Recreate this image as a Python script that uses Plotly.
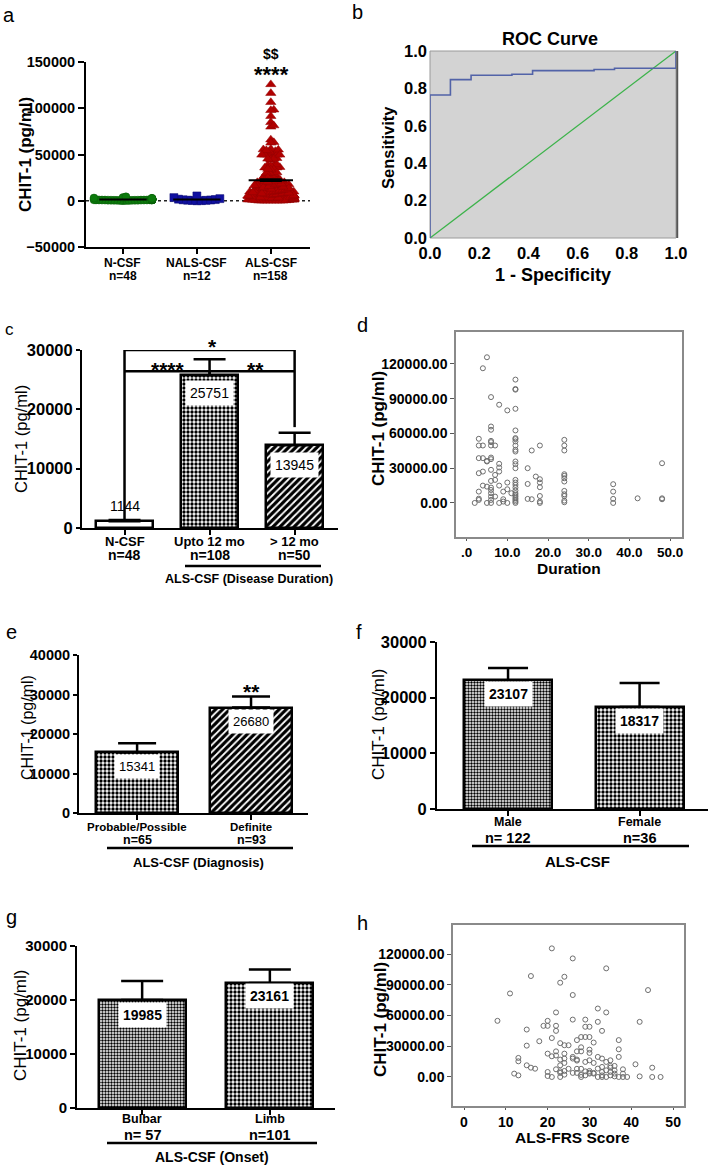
import numpy as np
import plotly.graph_objects as go

W, H = 709, 1165
FONT = "Liberation Sans, Arial, Helvetica, sans-serif"

# ---------------- data ----------------
# panel a : CHIT-1 per group
a_groups = ["N-CSF", "NALS-CSF", "ALS-CSF"]
a_counts = ["n=48", "n=12", "n=158"]
a_ncsf = [120, 240, 300, 350, 410, 460, 500, 540, 580, 620, 660, 700, 730, 770, 800,
          840, 870, 900, 930, 960, 990, 1020, 1050, 1080, 1110, 1140, 1180, 1210, 1250,
          1290, 1330, 1370, 1410, 1450, 1500, 1550, 1600, 1660, 1720, 1800, 1900, 2000,
          2150, 2350, 2600, 2900, 3400, 4200]
a_nals = [0, 150, 300, 450, 600, 800, 1000, 1300, 1700, 2300, 3400, 5200]

# panel b : ROC curve
roc_fpr = [0.0, 0.0, 0.083, 0.167, 0.333, 0.417, 0.667, 0.75, 1.0, 1.0]
roc_tpr = [0.0, 0.765, 0.847, 0.870, 0.876, 0.895, 0.901, 0.908, 0.908, 1.0]

# panel c : disease duration
c_groups = ["N-CSF", "Upto 12 mo", "> 12 mo"]
c_counts = ["n=48", "n=108", "n=50"]
c_means = [1144, 25751, 13945]
c_sem = [200, 2670, 2100]

# panel d : CHIT-1 vs duration (months)
d_duration = ([2] + [3] * 7 + [4] * 5 + [5] * 5 + [6] * 16 + [7] * 4 + [8] * 6 + [9] * 3 +
              [10] * 4 + [11] + [12] * 26 + [15] * 3 + [16] * 2 + [17] + [18] * 7 +
              [24] * 12 + [36] * 4 + [42] + [48] * 3)
d_chit = [0,
          55400, 49600, 38700, 25700, 9800, 3700, 2600,
          116300, 49600, 38700, 27100, 15000,
          125800, 36300, 35800, 14100, 0,
          91400, 66000, 63200, 53600, 52500, 49600, 39200, 37800, 28600, 19000, 13300,
          11200, 8400, 5500, 2600, 0,
          49600, 24200, 19900, 5500,
          84800, 33800, 30600, 27100, 15000, 0,
          9800, 3200, 1200,
          79900, 17600, 11800, 0,
          8400,
          106500, 98400, 97800, 81300, 62600, 56000, 55100, 53100, 49600, 45900, 44400,
          35800, 33500, 30000, 19900, 17600, 15600, 13300, 10700, 8400, 6900, 5500, 4000,
          2600, 1200, 0,
          30000, 16400, 3500,
          45300, 3200,
          22800,
          49600, 20500, 17600, 13600, 6000, 1200, 0,
          54500, 49600, 45300, 24800, 23400, 21300, 18500, 10400, 7500, 6000, 2000, 600,
          16200, 9800, 3500, 0,
          4000,
          34300, 4000, 3200]
d_xticks = [".0", "10.0", "20.0", "30.0", "40.0", "50.0"]

# ALS-CSF values in panel a: the visible points of panel d plus the low values hidden
# in the dense part of the swarm
a_als_hidden = [0, 300, 500, 800, 1000, 1300, 1500, 1800, 2000, 2200, 2500, 2800, 3000,
                3300, 3600, 4000, 4300, 4700, 5000, 5400, 5800, 6200, 6600, 7000, 7400,
                7800, 8200, 8600, 9000, 9500, 10000, 10500, 11000, 11600, 12200, 12800,
                13500, 14200, 15000, 15800, 16600, 17500, 18500, 19500, 20500, 21500, 23000]
a_als = d_chit + a_als_hidden

# panel e : diagnosis
e_groups = ["Probable/Possible", "Definite"]
e_counts = ["n=65", "n=93"]
e_means = [15341, 26680]
e_sem = [2340, 2800]

# panel f : sex
f_groups = ["Male", "Female"]
f_counts = ["n= 122", "n=36"]
f_means = [23107, 18317]
f_sem = [2220, 4320]

# panel g : onset
g_groups = ["Bulbar", "Limb"]
g_counts = ["n= 57", "n=101"]
g_means = [19985, 23161]
g_sem = [3520, 2510]

# panel h : CHIT-1 vs ALS-FRS
h_frs = [8, 11, 12, 13, 13, 13, 15, 15, 15, 16, 16, 17, 18, 19, 20, 20, 20, 20, 20,
         21, 21, 21, 21, 22, 22, 22, 22, 22, 22, 23, 23, 23, 23, 23, 23, 23,
         24, 24, 24, 24, 24, 24, 24, 25, 25, 26, 26, 26, 26, 26, 26,
         27, 27, 27, 27, 27, 27, 28, 28, 28, 28, 28, 28, 29, 29, 29, 29, 29, 29,
         30, 30, 30, 30, 30, 30, 30, 30, 31, 31, 31, 31, 32, 32, 32, 32, 32,
         33, 33, 33, 33, 33, 33, 34, 34, 34, 34, 34, 35, 35, 35, 35, 35,
         36, 36, 36, 36, 37, 37, 37, 37, 38, 38, 38, 39, 41, 42, 42, 44, 45, 45, 47]
h_chit = [54800, 81500, 3300, 1600, 18600, 15300, 46300, 30600, 11400, 98500, 9100, 8100,
          34900, 49900, 54800, 49900, 22800, 4900, 1000,
          38000, 20200, 125500, 0, 63000, 50000, 45000, 25000, 21000, 7500,
          92000, 33000, 17000, 11400, 5500, 4000, 0,
          97800, 31000, 22800, 18000, 13700, 5900, 2300, 31000, 8000,
          115700, 80000, 56000, 19600, 18000, 4000,
          36000, 25000, 17000, 16000, 8000, 4000, 39000, 29000, 25000, 8000, 2000, 0,
          56000, 49000, 39000, 14700, 5500, 1600,
          49000, 39000, 26700, 23500, 16300, 5900, 4200, 3300, 33600, 13700, 4000, 3300,
          66800, 53800, 19600, 8200, 0,
          45000, 18000, 9800, 4900, 1600, 0, 63000, 106000, 14700, 6500, 0,
          16300, 10800, 9100, 4900, 1600,
          10800, 6500, 3300, 600, 36000, 27000, 19600, 0, 7500, 3300, 0, 0, 12400,
          53800, 600, 84800, 9100, 0, 0]


# ---------------- helpers ----------------
def dx(a, b):
    return [a / W, b / W]


def dy(top, bottom):
    return [1 - bottom / H, 1 - top / H]


def swarm(vals, center, unit_per_px_y, px_per_cat, diam, maxhalf):
    vals = np.asarray(vals, dtype=float)
    order = np.argsort(vals, kind="stable")
    placed = []
    xs = np.zeros(len(vals))
    cands = [0.0]
    for k in range(1, 400):
        cands += [k * diam * 0.5, -k * diam * 0.5]
    for i in order:
        yp = vals[i] / unit_per_px_y
        chosen = cands[-1]
        for c in cands:
            ok = True
            for (pxx, pyy) in placed:
                if (c - pxx) ** 2 + (yp - pyy) ** 2 < diam ** 2:
                    ok = False
                    break
            if ok:
                chosen = c
                break
        chosen = max(-maxhalf, min(maxhalf, chosen))
        placed.append((chosen, yp))
        xs[i] = center + chosen / px_per_cat
    return xs


fig = go.Figure()
annotations = []
shapes = []


def ann(x, y, text, size, bold=False, angle=0, color="black", **kw):
    d = dict(x=x / W, y=1 - y / H, xref="paper", yref="paper", text=text, showarrow=False,
             font=dict(family=FONT, size=size, color=color, weight="bold" if bold else "normal"),
             textangle=angle, xanchor="center", yanchor="middle")
    d.update(kw)
    annotations.append(d)


def hline(x0, x1, y, width=2.5):
    shapes.append(dict(type="line", xref="paper", yref="paper", x0=x0 / W, x1=x1 / W,
                       y0=1 - y / H, y1=1 - y / H, line=dict(color="black", width=width)))


def cat_labels(xa, groups, counts, y1, y2, s1, s2):
    for i, (g, n) in enumerate(zip(groups, counts)):
        for txt, yy, ss in ((g, y1, s1), (n, y2, s2)):
            annotations.append(dict(x=i, y=1 - yy / H, xref=xa, yref="paper", text=txt,
                                    showarrow=False, xanchor="center", yanchor="middle",
                                    font=dict(family=FONT, size=ss, color="black", weight="bold")))


# ---------------- panel a ----------------
unit_px_a = 200000 / 185.0
cat_px_a = 74.0
green_x = swarm(a_ncsf, 0, unit_px_a, cat_px_a, 3.0, 29)
blue_x = swarm(a_nals, 1, unit_px_a, cat_px_a, 4.6, 27)
red_x = swarm(a_als, 2, unit_px_a, cat_px_a, 3.0, 23)

fig.add_trace(go.Scatter(x=green_x, y=a_ncsf, mode="markers", xaxis="x", yaxis="y",
                         marker=dict(symbol="circle", size=8, color="#0b7a0b",
                                     line=dict(color="#0a5a0a", width=0.5)), cliponaxis=False))
fig.add_trace(go.Scatter(x=blue_x, y=a_nals, mode="markers", xaxis="x", yaxis="y",
                         marker=dict(symbol="square", size=8, color="#1010a0",
                                     line=dict(color="#0a0a70", width=0.5)), cliponaxis=False))
fig.add_trace(go.Scatter(x=red_x, y=a_als, mode="markers", xaxis="x", yaxis="y",
                         marker=dict(symbol="triangle-up", size=9, color="#b00000",
                                     line=dict(color="#900000", width=0.5)), cliponaxis=False))
for ci, vals in enumerate([a_ncsf, a_nals, a_als]):
    m = float(np.mean(vals))
    s = float(np.std(vals, ddof=1) / np.sqrt(len(vals)))
    half = 0.32 if ci < 2 else 0.30
    fig.add_trace(go.Scatter(x=[ci - half, ci + half], y=[m, m], mode="lines", xaxis="x", yaxis="y",
                             line=dict(color="black", width=2)))
    if ci == 2:
        fig.add_trace(go.Scatter(x=[ci, ci], y=[m - s, m + s], mode="lines", xaxis="x", yaxis="y",
                                 line=dict(color="black", width=22)))

shapes.append(dict(type="line", xref="x domain", yref="y", x0=0, x1=1, y0=0, y1=0,
                   line=dict(color="#222", width=1.6, dash="dot"), layer="below"))
cat_labels("x", a_groups, a_counts, 263, 276, 12, 12)

# ---------------- panel b ----------------
shapes.append(dict(type="rect", xref="x2 domain", yref="y2 domain", x0=0, x1=1, y0=0, y1=1,
                   fillcolor="#d3d3d3", line=dict(color="#9a9a9a", width=1), layer="below"))
shapes.append(dict(type="line", xref="x2 domain", yref="y2 domain", x0=1.005, x1=1.005, y0=0, y1=1,
                   line=dict(color="#555", width=2)))
fig.add_trace(go.Scatter(x=[0, 1], y=[0, 1], mode="lines", xaxis="x2", yaxis="y2",
                         line=dict(color="#3cb34a", width=1.3)))
fig.add_trace(go.Scatter(x=roc_fpr, y=roc_tpr, mode="lines", xaxis="x2", yaxis="y2",
                         line=dict(color="#5263a8", width=1.6, shape="hv")))


# ---------------- bar panels ----------------
def bars(xa, ya, means, sem, width, shapes_, sizes, solid, capw):
    n = len(means)
    fig.add_trace(go.Bar(x=list(range(n)), y=means, width=width, xaxis=xa, yaxis=ya,
                         marker=dict(color="white",
                                     line=dict(color="black", width=2.5),
                                     pattern=dict(shape=shapes_, fgcolor="black", bgcolor="white",
                                                  size=sizes, solidity=solid, fillmode="replace")),
                         error_y=dict(type="data", symmetric=False, array=sem, arrayminus=[0] * n,
                                      color="black", thickness=2.5, width=capw)))


bars("x3", "y3", c_means, c_sem, 0.67, ["", ".", "/"], [4, 4, 5], [0.5, 0.55, 0.65], 16)
bars("x5", "y5", e_means, e_sem, 0.72, [".", "/"], [4, 5], [0.55, 0.65], 19)
bars("x6", "y6", f_means, f_sem, 0.67, [".", "."], [3, 4], [0.5, 0.55], 20)
bars("x7", "y7", g_means, g_sem, 0.68, [".", "."], [3, 4], [0.5, 0.55], 21)


def bar_label(xa, ya, i, v, shift, size, bold=False, bg="white"):
    annotations.append(dict(x=i, y=v, xref=xa, yref=ya, text=str(v), showarrow=False,
                            yshift=shift, bgcolor=bg, borderpad=4,
                            font=dict(family=FONT, size=size, color="black",
                                      weight="bold" if bold else "normal")))


bar_label("x3", "y3", 0, c_means[0], 15, 14, bg="rgba(0,0,0,0)")
bar_label("x3", "y3", 1, c_means[1], -18, 14)
bar_label("x3", "y3", 2, c_means[2], -20, 14)
bar_label("x5", "y5", 0, e_means[0], -14, 13)
bar_label("x5", "y5", 1, e_means[1], -14, 13)
bar_label("x6", "y6", 0, f_means[0], -14, 14, bold=True)
bar_label("x6", "y6", 1, f_means[1], -14, 14, bold=True)
bar_label("x7", "y7", 0, g_means[0], -15, 14, bold=True)
bar_label("x7", "y7", 1, g_means[1], -13, 14, bold=True)

cat_labels("x3", c_groups, c_counts, 541, 555, 13, 14)
cat_labels("x5", e_groups, e_counts, 827, 840, 11.5, 12.5)
cat_labels("x6", f_groups, f_counts, 822, 838, 12.5, 14.5)
cat_labels("x7", g_groups, g_counts, 1119, 1135, 12.5, 14.5)

# significance brackets panel c
for (x0, y0, x1, y1) in [(0, 30000, 2, 30000), (0, 26400, 2, 26400), (0, 30000, 0, 1500),
                         (2, 30000, 2, 17000), (1, 26400, 1, 25751)]:
    shapes.append(dict(type="line", xref="x3", yref="y3", x0=x0, x1=x1, y0=y0, y1=y1,
                       line=dict(color="black", width=2.5)))

# ---------------- scatter panels ----------------
fig.add_trace(go.Scatter(x=d_duration, y=d_chit, mode="markers", xaxis="x4", yaxis="y4",
                         marker=dict(symbol="circle-open", size=5, color="#6e6e6e",
                                     line=dict(width=1))))
fig.add_trace(go.Scatter(x=h_frs, y=h_chit, mode="markers", xaxis="x8", yaxis="y8",
                         marker=dict(symbol="circle-open", size=5, color="#6e6e6e",
                                     line=dict(width=1))))


# ---------------- axes ----------------
def bar_x(dom, rng, n, anchor):
    return dict(domain=dom, range=rng, anchor=anchor, showline=True, linecolor="black",
                linewidth=2, ticks="outside", ticklen=5, tickwidth=2, tickcolor="black",
                tickvals=list(range(n)), showticklabels=False,
                showgrid=False, zeroline=False, fixedrange=True, automargin=False)


def bar_y(dom, rng, tv, size, anchor, tl=5):
    return dict(domain=dom, range=rng, anchor=anchor, showline=True, linecolor="black",
                linewidth=2, ticks="outside", ticklen=tl, tickwidth=2, tickcolor="black",
                tickvals=tv, tickformat="d",
                tickfont=dict(family=FONT, size=size, color="black", weight="bold"),
                showgrid=False, zeroline=False, fixedrange=True, automargin=False)


def sc_axis(dom, rng, tv, tt, size, anchor, tl=4):
    return dict(domain=dom, range=rng, anchor=anchor, showline=True, mirror=True,
                linecolor="#8a8a8a", linewidth=1.5, ticks="outside", ticklen=tl, tickwidth=1,
                tickcolor="#555", tickvals=tv, ticktext=tt,
                tickfont=dict(family=FONT, size=size, color="black", weight="bold"),
                showgrid=False, zeroline=False, fixedrange=True, automargin=False)


def roc_axis(dom, anchor, size, standoff):
    return dict(domain=dom, range=[0, 1.0], anchor=anchor, showline=False, ticks="",
                tickvals=[0, 0.2, 0.4, 0.6, 0.8, 1.0], tickformat=".1f",
                ticklabelstandoff=standoff,
                tickfont=dict(family=FONT, size=size, color="black", weight="bold"),
                showgrid=False, zeroline=False, fixedrange=True, automargin=False)


layout = dict(
    width=W, height=H, margin=dict(l=0, r=0, t=0, b=0, autoexpand=False),
    paper_bgcolor="white", plot_bgcolor="white", showlegend=False,
    font=dict(family=FONT, color="black"),
    bargap=0,
    xaxis=bar_x(dx(86, 310), [-0.5, 2.53], 3, "y"),
    yaxis=bar_y(dy(62, 247), [-50000, 150000], [-50000, 0, 50000, 100000, 150000], 14.5, "x", 6),
    xaxis2=roc_axis(dx(430, 676), "y2", 16.5, 3),
    yaxis2=roc_axis(dy(51, 238), "x2", 16.5, 2),
    xaxis3=bar_x(dx(82, 338), [-0.5, 2.51], 3, "y3"),
    yaxis3=bar_y(dy(350, 528), [0, 30000], [0, 10000, 20000, 30000], 16.5, "x3", 4),
    xaxis4=sc_axis(dx(456, 682), [-2.6, 52.9], [0, 10, 20, 30, 40, 50], d_xticks, 13.5, "y4", 2),
    yaxis4=sc_axis(dy(332, 537), [-29400, 147600], [0, 30000, 60000, 90000, 120000],
                   ["0.00", "30000.00", "60000.00", "90000.00", "120000.00"], 14, "x4"),
    xaxis5=bar_x(dx(79, 308), [-0.51, 1.5], 2, "y5"),
    yaxis5=bar_y(dy(655, 813), [0, 40000], [0, 10000, 20000, 30000, 40000], 14.5, "x5", 4),
    xaxis6=bar_x(dx(437, 708), [-0.54, 1.52], 2, "y6"),
    yaxis6=bar_y(dy(642, 809), [0, 30000], [0, 10000, 20000, 30000], 16.5, "x6", 5),
    xaxis7=bar_x(dx(77, 335), [-0.51, 1.51], 2, "y7"),
    yaxis7=bar_y(dy(946, 1108), [0, 30000], [0, 10000, 20000, 30000], 15, "x7", 5),
    xaxis8=sc_axis(dx(453, 684), [-2.63, 52.6], [0, 10, 20, 30, 40, 50],
                   ["0", "10", "20", "30", "40", "50"], 14, "y8", 2),
    yaxis8=sc_axis(dy(925, 1106), [-28300, 148300], [0, 30000, 60000, 90000, 120000],
                   ["0.00", "30000.00", "60000.00", "90000.00", "120000.00"], 14, "x8"),
)

# ---------------- text ----------------
ann(1, 15, "a", 20, xanchor="left")
ann(350, 12, "b", 20, xanchor="left")
ann(3, 330, "c", 17, xanchor="left")
ann(355, 325, "d", 20, xanchor="left")
ann(4, 632, "e", 20, xanchor="left")
ann(354, 632, "f", 20, xanchor="left")
ann(4, 917, "g", 20, xanchor="left")
ann(355, 923, "h", 20, xanchor="left")

ann(25, 155, "CHIT-1 (pg/ml)", 17, bold=True, angle=-90)
ann(271, 75, "****", 22, bold=True)
ann(271, 54, "$$", 14, bold=True)

ann(550, 39, "ROC Curve", 18, bold=True)
ann(388, 148, "Sensitivity", 16.5, bold=True, angle=-90)
ann(553, 275, "1 - Specificity", 18, bold=True)

ann(21, 439, "CHIT-1 (pg/ml)", 16.5, angle=-90)
ann(213, 346, "*", 21, bold=True)
ann(168, 369, "****", 21, bold=True)
ann(255, 369, "**", 21, bold=True)
hline(185, 321, 566)
ann(249, 579, "ALS-CSF (Disease Duration)", 12.5, bold=True)

ann(378, 428, "CHIT-1 (pg/ml)", 17, bold=True, angle=-90)
ann(569, 568, "Duration", 15.5, bold=True)

ann(27, 728, "CHIT-1 (pg/ml)", 16, angle=-90)
ann(251, 691, "**", 21, bold=True)
hline(107, 293, 848)
ann(198, 862, "ALS-CSF (Diagnosis)", 13, bold=True)

ann(378, 724, "CHIT-1 (pg/ml)", 17, angle=-90)
hline(472, 689, 846)
ann(577, 861, "ALS-CSF", 15, bold=True)

ann(20, 1026, "CHIT-1 (pg/ml)", 17, angle=-90)
hline(107, 317, 1143)
ann(212, 1157, "ALS-CSF (Onset)", 14, bold=True)

ann(380, 1020, "CHIT-1 (pg/ml)", 17, bold=True, angle=-90)
ann(572, 1137, "ALS-FRS Score", 15.5, bold=True)

layout["annotations"] = annotations
layout["shapes"] = shapes
fig.update_layout(**layout)
fig.write_html("out.html", config={"displayModeBar": False},
               post_script="document.body.style.margin='0px';document.body.style.overflow='hidden';")
